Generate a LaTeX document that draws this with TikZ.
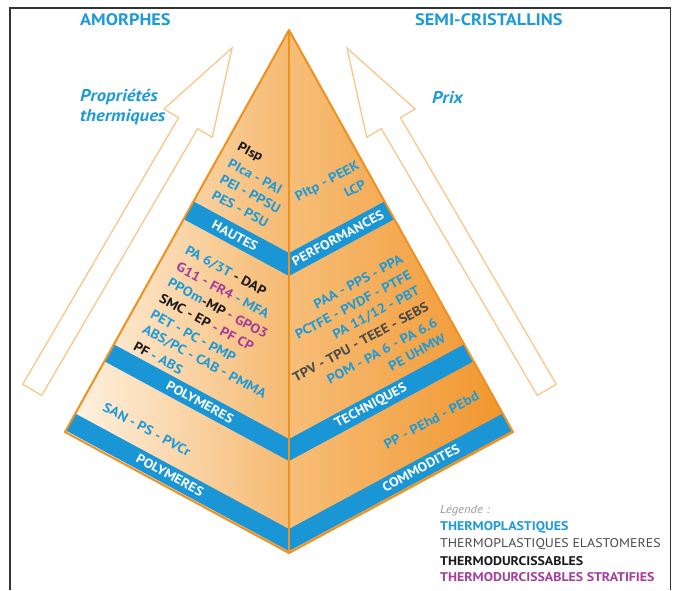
\documentclass[tikz,border=0pt]{standalone}
\usepackage{fontspec}
\setmainfont[FakeStretch=1.1]{PT Sans}
\usetikzlibrary{calc}
\definecolor{cblu}{HTML}{1E9BD7}
\definecolor{bandblu}{HTML}{1A96D6}
\definecolor{cpur}{HTML}{A43C9C}
\definecolor{cgry}{HTML}{4A4A4A}
\definecolor{cblk}{HTML}{1A1A1A}
\definecolor{ostroke}{HTML}{F0901F}
\definecolor{astroke}{HTML}{F9C68C}
\definecolor{lfa}{HTML}{FFF4E6}
\definecolor{lfb}{HTML}{F6B970}
\definecolor{rfa}{HTML}{F7BE78}
\definecolor{rfb}{HTML}{F1942A}
\newcommand{\cblue}[1]{\textcolor{cblu}{#1}}
\newcommand{\cblack}[1]{\textcolor{cblk}{#1}}
\newcommand{\cpurp}[1]{\textcolor{cpur}{#1}}
\newcommand{\cgray}[1]{\textcolor{cgry}{#1}}
\tikzset{
  ptxt/.style={font=\fontsize{13.3}{15}\selectfont\bfseries, inner sep=0pt},
  lface/.style={ptxt, rotate=-28.4},
  rface/.style={ptxt, rotate=28.4},
  bandtxt/.style={font=\fontsize{13}{14}\selectfont\bfseries, text=white, inner sep=0pt},
  titletxt/.style={font=\fontsize{16.6}{18}\selectfont\bfseries, text=cblu, inner sep=0pt},
  legtxt/.style={font=\fontsize{12.6}{14}\selectfont, inner sep=0pt, anchor=west},
  arrowline/.style={draw=astroke, fill=white, line width=1.3pt, line join=miter},
  edge/.style={draw=ostroke, line width=2pt, line join=round}
}
\begin{document}
\begin{tikzpicture}[x=1pt,y=-1pt]
\useasboundingbox (0,0) rectangle (674,590);
\fill[white] (0,0) rectangle (674,590);
% frame
\draw[draw=black!80, line width=1.6pt] (10,590) -- (10,8) -- (670.5,8) -- (670.5,590);

% titles
\node[titletxt, anchor=west] (amor) at (80,20) {AMORPHES};
\node[titletxt, anchor=west] (semi) at (415,20) {SEMI-CRISTALLINS};
\node[titletxt, anchor=west, align=left, font=\fontsize{17}{20}\selectfont\bfseries\itshape] (prop) at (80,107) {Propriétés\\thermiques};
\node[titletxt, anchor=west, font=\fontsize{17}{20}\selectfont\bfseries\itshape] (prix) at (432,97) {Prix};

% arrows
\begin{scope}[shift={(232,48)}, rotate=59.7]
\draw[arrowline] (0,0) -- (-87,28) -- (-87,11) -- (-396,11) -- (-396,-11) -- (-87,-11) -- (-87,-28) -- cycle;
\end{scope}
\begin{scope}[shift={(347,48)}, rotate=120.3]
\draw[arrowline] (0,0) -- (-87,28) -- (-87,11) -- (-396,11) -- (-396,-11) -- (-87,-11) -- (-87,-28) -- cycle;
\end{scope}

% pyramid
\coordinate (A) at (289,30);
\coordinate (L) at (65,432);
\coordinate (Bt) at (289,553);
\coordinate (R) at (513,432);
\shade[left color=lfa, right color=lfb] (A) -- (L) -- (Bt) -- cycle;
\shade[left color=rfa, right color=rfb] (A) -- (Bt) -- (R) -- cycle;
\begin{scope}
\clip (A) -- (L) -- (Bt) -- cycle;
\fill[bandblu] (289,253) -- (289,276) -- (40,141.5) -- (40,118.5) -- cycle;
\fill[bandblu] (289,439) -- (289,461) -- (40,326.5) -- (40,304.5) -- cycle;
\fill[bandblu] (289,529) -- (289,551) -- (40,416.5) -- (40,394.5) -- cycle;
\end{scope}
\begin{scope}
\clip (A) -- (Bt) -- (R) -- cycle;
\fill[bandblu] (289,253) -- (289,276) -- (538,141.5) -- (538,118.5) -- cycle;
\fill[bandblu] (289,439) -- (289,461) -- (538,326.5) -- (538,304.5) -- cycle;
\fill[bandblu] (289,529) -- (289,551) -- (538,416.5) -- (538,394.5) -- cycle;
\end{scope}
\draw[edge] (A) -- (L) -- (Bt) -- (R) -- cycle;
\draw[edge] (A) -- (Bt);

% band labels
\node[bandtxt, rotate=-28.4] (hautes) at (235,235.5) {HAUTES};
\node[bandtxt, rotate=-28.4] (poly1) at (200,402) {POLYMERES};
\node[bandtxt, rotate=-28.4] (poly2) at (170,475) {POLYMERES};
\node[bandtxt, rotate=28.4] (perf) at (338,238) {PERFORMANCES};
\node[bandtxt, rotate=28.4] (tech) at (371,406) {TECHNIQUES};
\node[bandtxt, rotate=28.4] (comm) at (421,468) {COMMODITES};

% left face, top group
\node[lface, anchor=west] (t1) at (238,146) {\cblack{PIsp}};
\node[lface, anchor=west] (t2) at (229,162) {\cblue{PIca - PAI}};
\node[lface, anchor=west] (t3) at (221,178) {\cblue{PEI - PPSU}};
\node[lface, anchor=west] (t4) at (213,194) {\cblue{PES - PSU}};

% left face, middle group
\node[lface, anchor=west] (m1) at (186,250) {\cblue{PA 6/3T} \cblack{- DAP}};
\node[lface, anchor=west] (m2) at (177.4,265.8) {\cpurp{G11 - FR4} \cblue{- MFA}};
\node[lface, anchor=west] (m3) at (168.9,281.7) {\cblue{PPOm}\cblack{-MP} \cpurp{- GPO3}};
\node[lface, anchor=west] (m4) at (160.3,297.5) {\cblack{SMC - EP} \cpurp{- PF CP}};
\node[lface, anchor=west] (m5) at (151.7,313.4) {\cblue{PET - PC - PMP}};
\node[lface, anchor=west] (m6) at (143.2,329.2) {\cblue{ABS/PC - CAB - PMMA}};
\node[lface, anchor=west] (m7) at (134.6,345) {\cblack{PF} \cblue{- ABS}};

% left face, bottom
\node[lface, anchor=west] (b1) at (104,406) {\cblue{SAN - PS - PVCr}};

% right face, top group
\node[rface, anchor=east] (r1) at (359,165) {\cblue{PItp - PEEK}};
\node[rface, anchor=east] (r2) at (365,183) {\cblue{LCP}};

% right face, middle group
\node[rface, anchor=east] (n1) at (402,258) {\cblue{PAA - PPS - PPA}};
\node[rface, anchor=east] (n2) at (410.6,273.8) {\cblue{PCTFE - PVDF - PTFE}};
\node[rface, anchor=east] (n3) at (419.1,289.7) {\cblue{PA 11/12 - PBT}};
\node[rface, anchor=east] (n4) at (427.7,305.5) {\cgray{TPV - TPU - TEEE - SEBS}};
\node[rface, anchor=east] (n5) at (436.3,321.4) {\cblue{POM - PA 6 - PA 6.6}};
\node[rface, anchor=east] (n6) at (444.8,337.2) {\cblue{PE UHMW}};

% right face, bottom
\node[rface, anchor=east] (b2) at (478,395) {\cblue{PP - PEhd - PEbd}};

% legend
\node[legtxt, text=black!40, font=\fontsize{11.5}{14}\selectfont\itshape] (leg0) at (440,511) {Légende :};
\node[legtxt, text=cblu, font=\fontsize{12.6}{14}\selectfont\bfseries] (leg1) at (440,527) {THERMOPLASTIQUES};
\node[legtxt, text=cgry] (leg2) at (440,544) {THERMOPLASTIQUES ELASTOMERES};
\node[legtxt, text=cblk, font=\fontsize{12.6}{14}\selectfont\bfseries] (leg3) at (440,561) {THERMODURCISSABLES};
\node[legtxt, text=cpur, font=\fontsize{12.6}{14}\selectfont\bfseries] (leg4) at (440,577) {THERMODURCISSABLES STRATIFIES};
\end{tikzpicture}
\end{document}
